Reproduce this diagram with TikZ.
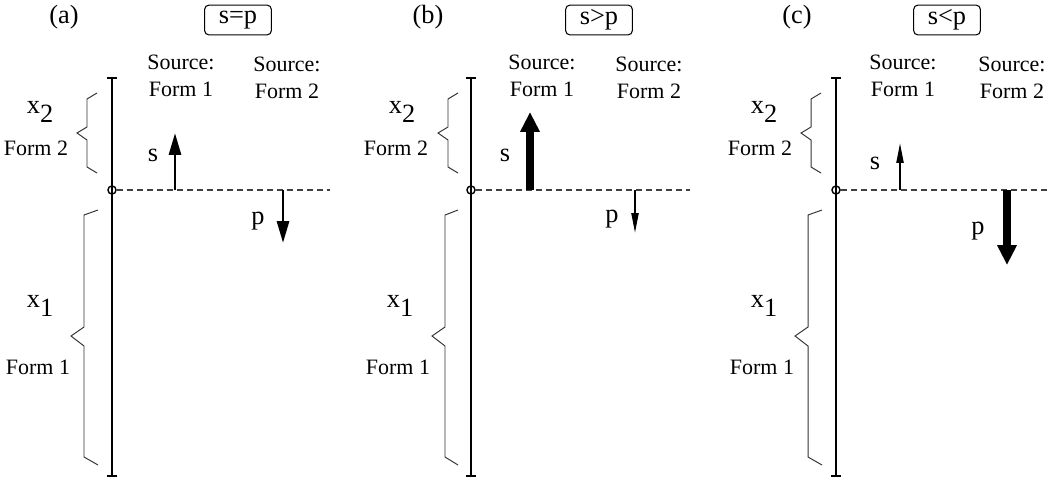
\documentclass[tikz,border=0pt]{standalone}
\usepackage{fontspec}
\setmainfont{Liberation Serif}
\usepackage{tikz}
\usetikzlibrary{arrows.meta,positioning}

\newcommand{\xsub}[1]{x\raisebox{-5pt}{#1}}

\tikzset{
  tag/.style={font=\fontsize{15}{17}\selectfont},
  case/.style={draw, rounded corners=2.5pt, line width=0.6pt, inner sep=0pt,
    minimum width=38pt, minimum height=17pt, font=\fontsize{15}{17}\selectfont},
  lbl/.style={align=center, font=\fontsize{12.5}{15.3}\selectfont},
  sym/.style={font=\fontsize{15}{17}\selectfont},
  axis/.style={line width=1.1pt, {Bar[width=5.7pt]}-{Bar[width=5.7pt]}},
  origin/.style={circle, draw, inner sep=0pt, minimum size=4.6pt, line width=0.8pt},
  level/.style={line width=0.6pt, black!75, dash pattern=on 3.4pt off 2.3pt},
  brace/.style={line width=0.55pt, black!80},
  flow/.style={line width=1.7pt, -{Triangle[length=12.5pt, width=6.8pt]}},
  thinflow/.style={line width=1.1pt, -{Triangle[length=11.3pt, width=4pt]}},
  thickflow/.style={line width=4.4pt, -{Triangle[length=11.3pt, width=10.5pt]}},
}

\begin{document}
\begin{tikzpicture}[x=0.02cm, y=-0.02cm]
\useasboundingbox (0,0) rectangle (1053,481);

% (a) equal rates
\begin{scope}[shift={(0,0)}]
  \node[tag] (a-tag) at (64,17) {(a)};
  \node[case] (a-case) at (238,20) {s=p};
  \node[lbl] (a-src1) at (181,76) {Source:\\Form 1};
  \node[lbl] (a-src2) at (287,78) {Source:\\Form 2};
  \coordinate (a-top) at (112,77);
  \coordinate (a-bot) at (112,477);
  \draw[axis] (a-top) -- (a-bot);
  \node[origin] (a-o) at (112,190) {};
  \coordinate (a-end) at (330,190);
  \draw[level] (a-o.east) -- (a-end);
  \draw[brace] (97,93) -- (87,99) -- (87,127) -- (77,133) -- (87,140) -- (87,167) -- (97,173);
  \draw[brace] (98,210) -- (84,215) -- (84,327) -- (71,336) -- (84,346) -- (84,457) -- (98,465);
  \node[sym] (a-x2) at (40,112) {\xsub{2}};
  \node[lbl] (a-f2) at (36,148) {Form 2};
  \node[sym] (a-x1) at (40,306) {\xsub{1}};
  \node[lbl] (a-f1) at (38,367) {Form 1};
  \coordinate (a-sfoot) at (175,190);
  \coordinate (a-shead) at (175,133);
  \draw[flow] (a-sfoot) -- (a-shead);
  \node[sym] (a-s) at (153,155) {s};
  \coordinate (a-pfoot) at (283,190);
  \coordinate (a-phead) at (283,243);
  \draw[flow] (a-pfoot) -- (a-phead);
  \node[sym] (a-p) at (258,221) {p};
\end{scope}

% (b) source larger
\begin{scope}[shift={(360,0)}]
  \node[tag] (b-tag) at (68,17) {(b)};
  \node[case] (b-case) at (239,20) {s>p};
  \node[lbl] (b-src1) at (182,76) {Source:\\Form 1};
  \node[lbl] (b-src2) at (289,78) {Source:\\Form 2};
  \coordinate (b-top) at (111,77);
  \coordinate (b-bot) at (111,477);
  \draw[axis] (b-top) -- (b-bot);
  \node[origin] (b-o) at (111,190) {};
  \coordinate (b-end) at (330,190);
  \draw[level] (b-o.east) -- (b-end);
  \draw[brace] (98,93) -- (88,99) -- (88,127) -- (78,133) -- (88,140) -- (88,167) -- (98,173);
  \draw[brace] (98,210) -- (85,215) -- (85,327) -- (72,336) -- (85,346) -- (85,457) -- (98,465);
  \node[sym] (b-x2) at (42,112) {\xsub{2}};
  \node[lbl] (b-f2) at (36,148) {Form 2};
  \node[sym] (b-x1) at (40,306) {\xsub{1}};
  \node[lbl] (b-f1) at (38,367) {Form 1};
  \coordinate (b-sfoot) at (170,190);
  \coordinate (b-shead) at (170,112);
  \draw[thickflow] (b-sfoot) -- (b-shead);
  \node[sym] (b-s) at (145,155) {s};
  \coordinate (b-pfoot) at (275,190);
  \coordinate (b-phead) at (275,233);
  \draw[thinflow] (b-pfoot) -- (b-phead);
  \node[sym] (b-p) at (252,219) {p};
\end{scope}

% (c) source smaller
\begin{scope}[shift={(724,0)}]
  \node[tag] (c-tag) at (73,17) {(c)};
  \node[case] (c-case) at (223,20) {s<p};
  \node[lbl] (c-src1) at (179,76) {Source:\\Form 1};
  \node[lbl] (c-src2) at (288,78) {Source:\\Form 2};
  \coordinate (c-top) at (112,77);
  \coordinate (c-bot) at (112,477);
  \draw[axis] (c-top) -- (c-bot);
  \node[origin] (c-o) at (112,190) {};
  \coordinate (c-end) at (326,190);
  \draw[level] (c-o.east) -- (c-end);
  \draw[brace] (97,93) -- (87,99) -- (87,127) -- (77,133) -- (87,140) -- (87,167) -- (97,173);
  \draw[brace] (98,210) -- (84,215) -- (84,327) -- (71,336) -- (84,346) -- (84,457) -- (98,465);
  \node[sym] (c-x2) at (40,112) {\xsub{2}};
  \node[lbl] (c-f2) at (36,148) {Form 2};
  \node[sym] (c-x1) at (40,306) {\xsub{1}};
  \node[lbl] (c-f1) at (38,367) {Form 1};
  \coordinate (c-sfoot) at (176,190);
  \coordinate (c-shead) at (176,143);
  \draw[thinflow] (c-sfoot) -- (c-shead);
  \node[sym] (c-s) at (151,163) {s};
  \coordinate (c-pfoot) at (283,190);
  \coordinate (c-phead) at (283,265);
  \draw[thickflow] (c-pfoot) -- (c-phead);
  \node[sym] (c-p) at (254,231) {p};
\end{scope}
\end{tikzpicture}
\end{document}
